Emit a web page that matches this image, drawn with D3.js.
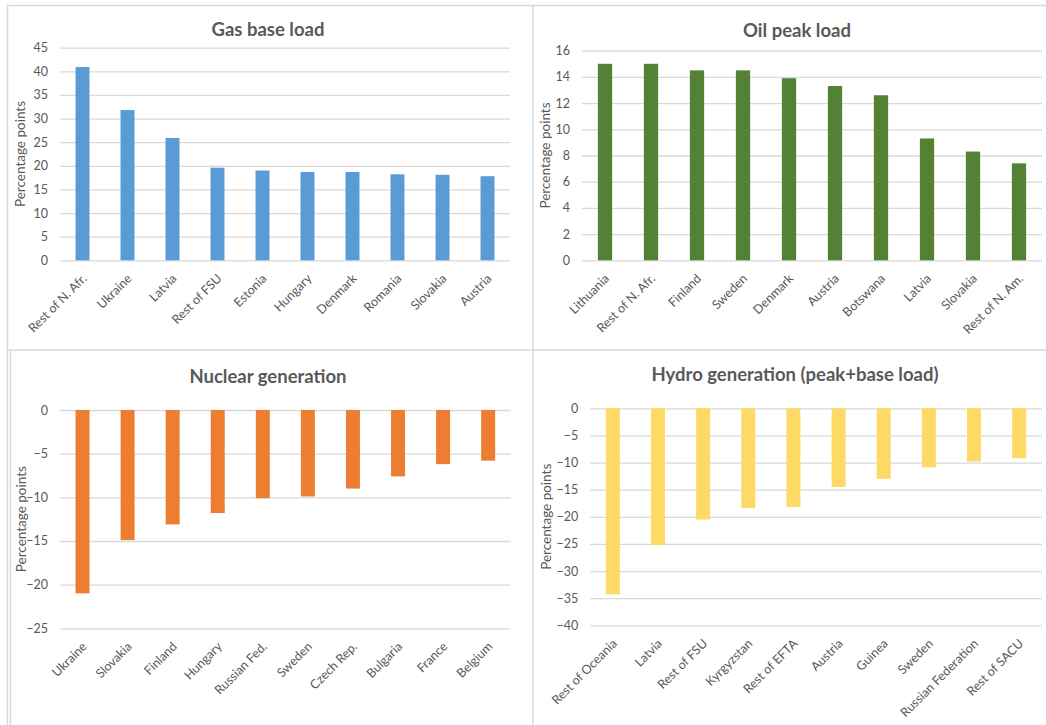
<!DOCTYPE html>
<html>
<head>
<meta charset="utf-8">
<script src="https://cdn.jsdelivr.net/npm/d3@7"></script>
<style>
  html, body { margin: 0; padding: 0; background: #ffffff; }
  svg { display: block; font-family: Lato, "Open Sans", sans-serif; }
</style>
</head>
<body>
<svg id="chart" width="1046" height="725"></svg>
<script>
// ---- Data ---------------------------------------------------------------
const gasCategories = ["Rest of N. Afr.", "Ukraine", "Latvia", "Rest of FSU", "Estonia",
  "Hungary", "Denmark", "Romania", "Slovakia", "Austria"];
const gasValues = [40.9, 31.8, 25.9, 19.6, 19.0, 18.7, 18.7, 18.2, 18.1, 17.8];
const gasTicks = [0, 5, 10, 15, 20, 25, 30, 35, 40, 45];

const oilCategories = ["Lithuania", "Rest of N. Afr.", "Finland", "Sweden", "Denmark",
  "Austria", "Botswana", "Latvia", "Slovakia", "Rest of N. Am."];
const oilValues = [15.0, 15.0, 14.5, 14.5, 13.9, 13.3, 12.6, 9.3, 8.3, 7.4];
const oilTicks = [0, 2, 4, 6, 8, 10, 12, 14, 16];

const nuclearCategories = ["Ukraine", "Slovakia", "Finland", "Hungary", "Russian Fed.",
  "Sweden", "Czech Rep.", "Bulgaria", "France", "Belgium"];
const nuclearValues = [-21.0, -14.9, -13.1, -11.8, -10.1, -9.9, -9.0, -7.6, -6.2, -5.8];
const nuclearTicks = [0, -5, -10, -15, -20, -25];

const hydroCategories = ["Rest of Oceania", "Latvia", "Rest of FSU", "Kyrgyzstan", "Rest of EFTA",
  "Austria", "Guinea", "Sweden", "Russian Federation", "Rest of SACU"];
const hydroValues = [-34.3, -25.2, -20.5, -18.4, -18.2, -14.5, -13.0, -10.9, -9.8, -9.2];
const hydroTicks = [0, -5, -10, -15, -20, -25, -30, -35, -40];

// ---- Drawing ------------------------------------------------------------
const svg = d3.select("#chart");
const GRID = "#d9d9d9";
const TEXT = "#595959";

// panel frames
const frames = svg.append("g").attr("fill", "none").attr("stroke", GRID).attr("stroke-width", 1.5);
frames.append("path").attr("d", "M7.5,725 V5.5 H1046");
frames.append("path").attr("d", "M533,5 V725");
frames.append("path").attr("d", "M7,350 H1046");
frames.append("path").attr("d", "M10.5,350 V725");

function panel(opt) {
  const g = svg.append("g");

  const x = d3.scaleBand()
    .domain(opt.categories)
    .range([opt.left, opt.right])
    .paddingInner(0.69)
    .paddingOuter(0.345);

  const y = d3.scaleLinear()
    .domain(opt.domain)
    .range([opt.bottom, opt.top]);

  // gridlines + tick labels
  const axis = d3.axisLeft(y)
    .tickValues(opt.ticks)
    .tickSize(-(opt.right - opt.left))
    .tickPadding(12)
    .tickFormat(d3.format("d"));

  const ag = g.append("g")
    .attr("transform", `translate(${opt.left},0)`)
    .call(axis);
  ag.select(".domain").remove();
  ag.selectAll(".tick line").attr("stroke", GRID).attr("stroke-width", 1.3);
  ag.selectAll(".tick text")
    .attr("fill", TEXT)
    .attr("font-size", 12.5)
    .attr("font-family", "Lato, sans-serif");

  // bars
  g.append("g").selectAll("rect")
    .data(opt.values)
    .join("rect")
    .attr("x", (d, i) => x(opt.categories[i]))
    .attr("width", x.bandwidth())
    .attr("y", d => Math.min(y(d), y(0)))
    .attr("height", d => Math.abs(y(d) - y(0)))
    .attr("fill", opt.color);

  // category labels, rotated below the plot area
  g.append("g").selectAll("text")
    .data(opt.categories)
    .join("text")
    .attr("transform", d => `translate(${x(d) + x.bandwidth() / 2 + 5},${opt.bottom + 19}) rotate(-45)`)
    .attr("text-anchor", "end")
    .attr("fill", TEXT)
    .attr("font-size", 12.5)
    .text(d => d);

  // title
  g.append("text")
    .attr("x", opt.titleX)
    .attr("y", opt.titleY)
    .attr("text-anchor", "middle")
    .attr("fill", TEXT)
    .attr("font-size", 18.5)
    .attr("font-weight", "bold")
    .text(opt.title);

  // y-axis title
  g.append("text")
    .attr("transform", `translate(${opt.yTitleX},${(opt.top + opt.bottom) / 2}) rotate(-90)`)
    .attr("text-anchor", "middle")
    .attr("fill", TEXT)
    .attr("font-size", 13.5)
    .text("Percentage points");
}

panel({
  title: "Gas base load", titleX: 268, titleY: 36,
  categories: gasCategories, values: gasValues, ticks: gasTicks,
  domain: [0, 45], left: 60, right: 510, top: 47.7, bottom: 260.3,
  color: "#5b9bd5", yTitleX: 25
});

panel({
  title: "Oil peak load", titleX: 797, titleY: 37,
  categories: oilCategories, values: oilValues, ticks: oilTicks,
  domain: [0, 16], left: 582, right: 1042, top: 50.7, bottom: 260.3,
  color: "#548235", yTitleX: 550
});

panel({
  title: "Nuclear generation", titleX: 268, titleY: 383,
  categories: nuclearCategories, values: nuclearValues, ticks: nuclearTicks,
  domain: [-25, 0], left: 60, right: 510.7, top: 410, bottom: 628.3,
  color: "#ed7d31", yTitleX: 26
});

panel({
  title: "Hydro generation (peak+base load)", titleX: 795, titleY: 381,
  categories: hydroCategories, values: hydroValues, ticks: hydroTicks,
  domain: [-40, 0], left: 590.3, right: 1041.7, top: 408.3, bottom: 625.3,
  color: "#ffd966", yTitleX: 551
});
</script>
</body>
</html>
